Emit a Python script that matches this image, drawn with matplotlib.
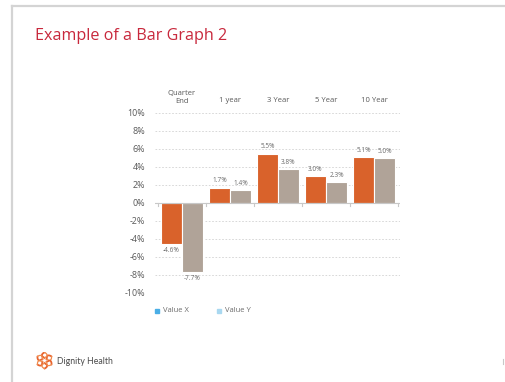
import numpy as np
import matplotlib
matplotlib.use("Agg")
import matplotlib.pyplot as plt
from matplotlib.lines import Line2D
from matplotlib.patches import Rectangle

plt.rcParams['font.family'] = ['Open Sans', 'DejaVu Sans']

categories = ["Quarter\nEnd", "1 year", "3 Year", "5 Year", "10 Year"]
value_x = [-4.6, 1.7, 5.5, 3.0, 5.1]
value_y = [-7.7, 1.4, 3.8, 2.3, 5.0]
series_names = ["Value X", "Value Y"]
y_ticks = [10, 8, 6, 4, 2, 0, -2, -4, -6, -8, -10]

W, H = 505, 382
fig = plt.figure(figsize=(W / 100, H / 100), dpi=100)
fig.patch.set_facecolor("white")

def fx(px):
    return px / W

def fy(py):
    return 1 - py / H

# slide frame
fig.add_artist(Line2D([fx(12), fx(12)], [fy(6), fy(382)], color="#d4d4d4", lw=1.6))
fig.add_artist(Line2D([fx(12), fx(505)], [fy(6), fy(6)], color="#d4d4d4", lw=1.6))
fig.add_artist(Line2D([fx(503), fx(503)], [fy(359), fy(364)], color="#c8c8c8", lw=0.8))

fig.text(fx(35), fy(36), "Example of a Bar Graph 2", color="#c8283c",
         fontsize=11.6, va="center", ha="left", family=["Open Sans", "DejaVu Sans"])

# chart axes
ax_left, ax_right = 155, 400
ax_top, ax_bot = 113, 293
ax = fig.add_axes([fx(ax_left), fy(ax_bot), fx(ax_right - ax_left), (ax_bot - ax_top) / H])
ax.set_ylim(-10, 10)
unit = 48.0
x0 = -(182 - ax_left) / unit
ax.set_xlim(x0, x0 + (ax_right - ax_left) / unit)
for s in ax.spines.values():
    s.set_visible(False)
ax.set_xticks([])
ax.set_yticks(y_ticks)
ax.set_yticklabels([f"{t}%" for t in y_ticks])
ax.tick_params(axis="y", length=0, pad=7, labelsize=6.4, labelcolor="#595959")
for t in y_ticks:
    if t != 0:
        ax.axhline(t, color="#d2d2d2", lw=0.6, ls=(0, (2, 2)), zorder=0)

xs = np.arange(len(categories))
off = 10.5 / unit
bw = 21.5 / unit
orange = "#d9622b"
taupe = "#b0a398"
ax.bar(xs - off, value_x, width=bw, color=orange, edgecolor="white", lw=0.8, zorder=2)
ax.bar(xs + off, value_y, width=bw, color=taupe, edgecolor="white", lw=0.8, zorder=2)

ax.axhline(0, color="#c8c8c8", lw=0.8, zorder=3)
for b in np.arange(len(categories) + 1) - 0.5:
    ax.plot([b, b], [0, -0.35], color="#c8c8c8", lw=0.8, zorder=3, clip_on=False)

for xi, v in zip(xs - off, value_x):
    ax.text(xi, v + (0.75 if v >= 0 else -0.65), f"{v:.1f}%", ha="center",
            va="center", fontsize=4.7, color="#6b6b6b")
for xi, v in zip(xs + off, value_y):
    ax.text(xi, v + (0.75 if v >= 0 else -0.65), f"{v:.1f}%", ha="center",
            va="center", fontsize=4.7, color="#6b6b6b")

for xi, c in zip(xs, categories):
    if "\n" in c:
        ax.text(xi, 10.85, c, ha="center", va="bottom", fontsize=5.5,
                color="#595959", clip_on=False, linespacing=1.35)
    else:
        ax.text(xi, 11.35, c, ha="center", va="center", fontsize=5.5,
                color="#595959", clip_on=False)

# legend
leg_y = 311
for sx, col, name in [(157, "#4aaee6", series_names[0]), (219, "#a9d8f0", series_names[1])]:
    fig.add_artist(Rectangle((fx(sx - 2), fy(leg_y + 2)), fx(4), 4 / H, color=col))
    fig.text(fx(sx + 6), fy(leg_y), name, fontsize=5.5, color="#6b6b6b", va="center", ha="left")

# logo
lx, ly = 44.5, 360.5
lax = fig.add_axes([fx(lx - 9), fy(ly + 9), fx(18), 18 / H])
lax.set_xlim(-1, 1)
lax.set_ylim(-1, 1)
lax.axis("off")
for k in range(6):
    a = np.deg2rad(30 + 60 * k)
    tt = np.linspace(0, 1, 20)
    r = 0.25 + 0.65 * tt
    ang = a + 0.5 * np.sin(np.pi * tt)
    lax.plot(r * np.cos(ang), r * np.sin(ang), color="#e8652f", lw=1.3, solid_capstyle="round")
    lax.plot(r * np.cos(a - 0.5 * np.sin(np.pi * tt)), r * np.sin(a - 0.5 * np.sin(np.pi * tt)),
             color="#f08a4b", lw=0.9, solid_capstyle="round")
fig.text(fx(57), fy(361.5), "Dignity Health", fontsize=6.3, color="#4a4a4a",
         va="center", ha="left", family=["Lato", "DejaVu Sans"])

fig.savefig("out.png", dpi=100, facecolor="white")
